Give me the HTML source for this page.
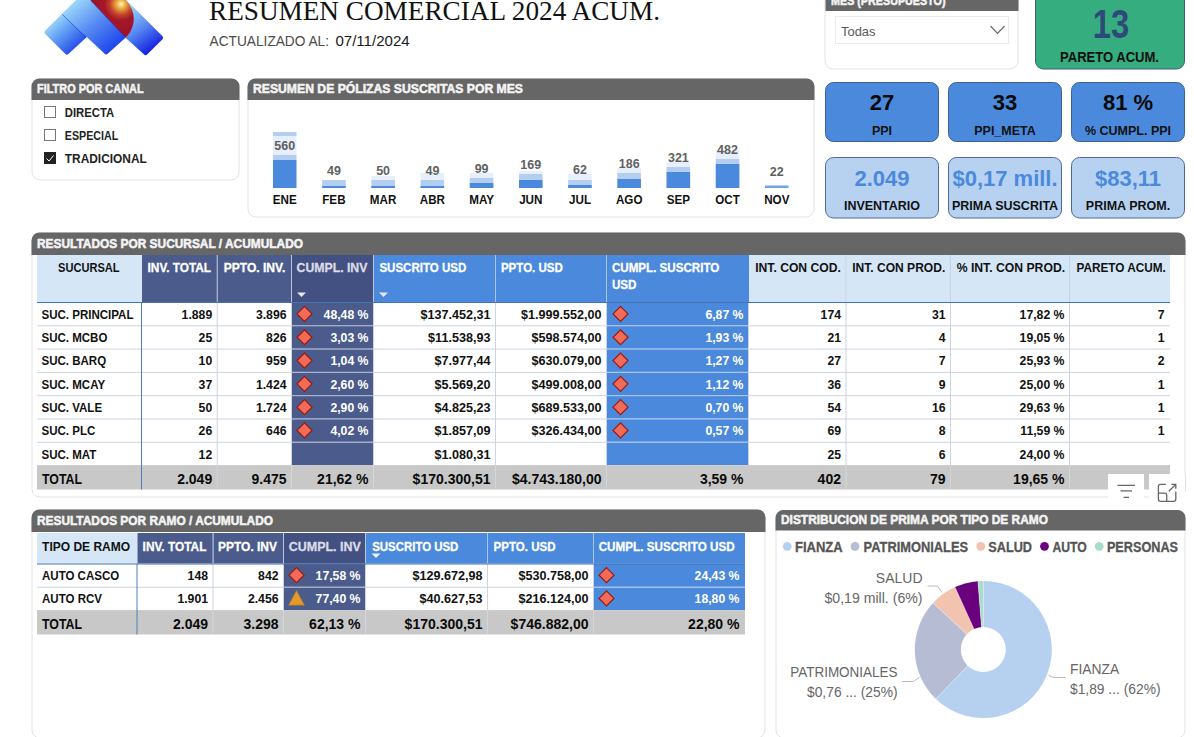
<!DOCTYPE html><html><head><meta charset="utf-8"><title>Resumen Comercial</title><style>html,body{margin:0;padding:0;background:#fff;width:1194px;height:737px;overflow:hidden}svg{display:block;font-family:"Liberation Sans",sans-serif}</style></head><body>
<svg width="1194" height="737" viewBox="0 0 1194 737">
<defs><linearGradient id="gl" gradientUnits="userSpaceOnUse" x1="50" y1="20" x2="78" y2="52"><stop offset="0" stop-color="#A6DEFB"/><stop offset="0.45" stop-color="#5C9AF3"/><stop offset="1" stop-color="#1C3CE8"/></linearGradient><linearGradient id="gm" gradientUnits="userSpaceOnUse" x1="70" y1="0" x2="112" y2="50"><stop offset="0" stop-color="#A6E2FB"/><stop offset="0.5" stop-color="#5A8EF2"/><stop offset="1" stop-color="#1E46EC"/></linearGradient><linearGradient id="gk" gradientUnits="userSpaceOnUse" x1="128" y1="8" x2="158" y2="50"><stop offset="0" stop-color="#9CD6FA"/><stop offset="0.45" stop-color="#5A8CF2"/><stop offset="1" stop-color="#0A14DE"/></linearGradient><radialGradient id="gr" gradientUnits="userSpaceOnUse" cx="121" cy="4" r="30"><stop offset="0" stop-color="#FFF4C8"/><stop offset="0.14" stop-color="#F0B444"/><stop offset="0.36" stop-color="#C3442A"/><stop offset="0.55" stop-color="#A3172A"/><stop offset="1" stop-color="#9A1228"/></radialGradient></defs>
<path d="M98,10 L108,0 L126.3,0 L162.5,36.2 Q164,37.7 162.5,39.2 L147.1,54.5 Q145.6,56 144.1,54.5 L125.5,37.7 Z" fill="url(#gk)"/>
<path d="M45.5,30.3 L66,10 L90,34 L68.4,54 Q66.9,55.5 65.4,54 L45.5,34.3 Q43.5,32.3 45.5,30.3 Z" fill="url(#gl)"/>
<path d="M62,14 L76,0 L92,0 L125.5,37.7 L107.7,53.8 Q106.2,55.3 104.7,53.8 Z" fill="url(#gm)"/>
<path d="M62.5,14.5 L86.1,37.7" stroke="#1530D8" stroke-opacity="0.55" stroke-width="1"/>
<path d="M90.3,0 L125.5,37.7 A25.8,25.8 0 0 0 108,-7 Z" fill="url(#gr)"/>
<path d="M91,1 L125,37" stroke="#1A2EE0" stroke-opacity="0.5" stroke-width="1"/>
<text x="209.0" y="19.5" font-family="Liberation Serif" font-size="27" font-weight="normal" fill="#111" text-anchor="start" textLength="451.0" lengthAdjust="spacingAndGlyphs">RESUMEN COMERCIAL 2024 ACUM.</text>
<text x="209.6" y="46.3" font-family="Liberation Sans" font-size="14" font-weight="normal" fill="#4A4A4A" text-anchor="start" textLength="119.4" lengthAdjust="spacingAndGlyphs">ACTUALIZADO AL:</text>
<text x="335.4" y="46.3" font-family="Liberation Sans" font-size="14" font-weight="normal" fill="#1A1A1A" text-anchor="start" textLength="74.3" lengthAdjust="spacingAndGlyphs">07/11/2024</text>
<path d="M40,79 H231 A8,8 0 0 1 239,87 V172 A8,8 0 0 1 231,180 H40 A8,8 0 0 1 32,172 V87 A8,8 0 0 1 40,79 Z" fill="#fff" stroke="#E3E3E3" stroke-width="1"/>
<path d="M31.5,100 V87 A8,8 0 0 1 40,78.5 H231 A8,8 0 0 1 239.5,87 V100 Z" fill="#666666"/>
<text x="37.0" y="93.4" font-family="Liberation Sans" font-size="13" font-weight="bold" fill="#F4F4F4" text-anchor="start" textLength="106.6" lengthAdjust="spacingAndGlyphs" stroke="#F4F4F4" stroke-width="0.55">FILTRO POR CANAL</text>
<rect x="44.50" y="106.50" width="11.00" height="11.00" rx="0" fill="#fff" stroke="#777" stroke-width="1"/>
<text x="64.8" y="116.6" font-family="Liberation Sans" font-size="13.5" font-weight="bold" fill="#222" text-anchor="start" textLength="49.4" lengthAdjust="spacingAndGlyphs">DIRECTA</text>
<rect x="44.50" y="129.50" width="11.00" height="11.00" rx="0" fill="#fff" stroke="#777" stroke-width="1"/>
<text x="64.8" y="139.6" font-family="Liberation Sans" font-size="13.5" font-weight="bold" fill="#222" text-anchor="start" textLength="53.4" lengthAdjust="spacingAndGlyphs">ESPECIAL</text>
<rect x="44.00" y="152.00" width="12.00" height="12.00" rx="0" fill="#222"/>
<path d="M46.5,158.5 L49,161 L53.5,155.5" fill="none" stroke="#fff" stroke-width="1"/>
<text x="64.8" y="162.6" font-family="Liberation Sans" font-size="13.5" font-weight="bold" fill="#222" text-anchor="start" textLength="82.0" lengthAdjust="spacingAndGlyphs">TRADICIONAL</text>
<path d="M256,79 H806 A8,8 0 0 1 814,87 V209 A8,8 0 0 1 806,217 H256 A8,8 0 0 1 248,209 V87 A8,8 0 0 1 256,79 Z" fill="#fff" stroke="#E3E3E3" stroke-width="1"/>
<path d="M247.5,100 V87 A8,8 0 0 1 256,78.5 H806 A8,8 0 0 1 814.5,87 V100 Z" fill="#666666"/>
<text x="253.0" y="93.4" font-family="Liberation Sans" font-size="13" font-weight="bold" fill="#F4F4F4" text-anchor="start" textLength="270.0" lengthAdjust="spacingAndGlyphs" stroke="#F4F4F4" stroke-width="0.55">RESUMEN DE PÓLIZAS SUSCRITAS POR MES</text>
<rect x="273.00" y="132.00" width="23.50" height="4.00" rx="0" fill="#B3CEF0"/>
<rect x="273.00" y="136.00" width="23.50" height="19.00" rx="0" fill="#E6EFFB"/>
<rect x="273.00" y="155.00" width="23.50" height="5.00" rx="0" fill="#B3CEF0"/>
<rect x="273.00" y="160.00" width="23.50" height="28.00" rx="0" fill="#4A89DC"/>
<text x="284.8" y="149.8" font-family="Liberation Sans" font-size="12.5" font-weight="bold" fill="#5F5F5F" text-anchor="middle">560</text>
<text x="284.8" y="203.8" font-family="Liberation Sans" font-size="12.5" font-weight="bold" fill="#111" text-anchor="middle" textLength="23.9" lengthAdjust="spacingAndGlyphs">ENE</text>
<rect x="322.20" y="180.00" width="23.50" height="8.00" rx="0" fill="#E6EFFB"/>
<rect x="322.20" y="180.00" width="23.50" height="8.00" rx="0" fill="#B3CEF0"/>
<rect x="322.20" y="186.00" width="23.50" height="2.00" rx="0" fill="#4A89DC"/>
<text x="333.9" y="174.8" font-family="Liberation Sans" font-size="12.5" font-weight="bold" fill="#5F5F5F" text-anchor="middle">49</text>
<text x="333.9" y="203.8" font-family="Liberation Sans" font-size="12.5" font-weight="bold" fill="#111" text-anchor="middle" textLength="23.3" lengthAdjust="spacingAndGlyphs">FEB</text>
<rect x="371.40" y="176.00" width="23.50" height="12.00" rx="0" fill="#E6EFFB"/>
<rect x="371.40" y="180.00" width="23.50" height="8.00" rx="0" fill="#B3CEF0"/>
<rect x="371.40" y="186.00" width="23.50" height="2.00" rx="0" fill="#4A89DC"/>
<text x="383.1" y="174.8" font-family="Liberation Sans" font-size="12.5" font-weight="bold" fill="#5F5F5F" text-anchor="middle">50</text>
<text x="383.1" y="203.8" font-family="Liberation Sans" font-size="12.5" font-weight="bold" fill="#111" text-anchor="middle" textLength="26.5" lengthAdjust="spacingAndGlyphs">MAR</text>
<rect x="420.60" y="173.00" width="23.50" height="15.00" rx="0" fill="#E6EFFB"/>
<rect x="420.60" y="180.00" width="23.50" height="8.00" rx="0" fill="#B3CEF0"/>
<rect x="420.60" y="186.00" width="23.50" height="2.00" rx="0" fill="#4A89DC"/>
<text x="432.4" y="174.8" font-family="Liberation Sans" font-size="12.5" font-weight="bold" fill="#5F5F5F" text-anchor="middle">49</text>
<text x="432.4" y="203.8" font-family="Liberation Sans" font-size="12.5" font-weight="bold" fill="#111" text-anchor="middle" textLength="25.2" lengthAdjust="spacingAndGlyphs">ABR</text>
<rect x="469.80" y="173.00" width="23.50" height="15.00" rx="0" fill="#E6EFFB"/>
<rect x="469.80" y="178.00" width="23.50" height="10.00" rx="0" fill="#B3CEF0"/>
<rect x="469.80" y="183.00" width="23.50" height="5.00" rx="0" fill="#4A89DC"/>
<text x="481.6" y="172.7" font-family="Liberation Sans" font-size="12.5" font-weight="bold" fill="#5F5F5F" text-anchor="middle">99</text>
<text x="481.6" y="203.8" font-family="Liberation Sans" font-size="12.5" font-weight="bold" fill="#111" text-anchor="middle" textLength="24.8" lengthAdjust="spacingAndGlyphs">MAY</text>
<rect x="519.00" y="171.00" width="23.50" height="17.00" rx="0" fill="#E6EFFB"/>
<rect x="519.00" y="174.00" width="23.50" height="14.00" rx="0" fill="#B3CEF0"/>
<rect x="519.00" y="180.00" width="23.50" height="8.00" rx="0" fill="#4A89DC"/>
<text x="530.8" y="169.0" font-family="Liberation Sans" font-size="12.5" font-weight="bold" fill="#5F5F5F" text-anchor="middle">169</text>
<text x="530.8" y="203.8" font-family="Liberation Sans" font-size="12.5" font-weight="bold" fill="#111" text-anchor="middle" textLength="23.3" lengthAdjust="spacingAndGlyphs">JUN</text>
<rect x="568.20" y="174.00" width="23.50" height="14.00" rx="0" fill="#E6EFFB"/>
<rect x="568.20" y="180.00" width="23.50" height="8.00" rx="0" fill="#B3CEF0"/>
<rect x="568.20" y="185.00" width="23.50" height="3.00" rx="0" fill="#4A89DC"/>
<text x="580.0" y="173.6" font-family="Liberation Sans" font-size="12.5" font-weight="bold" fill="#5F5F5F" text-anchor="middle">62</text>
<text x="580.0" y="203.8" font-family="Liberation Sans" font-size="12.5" font-weight="bold" fill="#111" text-anchor="middle" textLength="22.0" lengthAdjust="spacingAndGlyphs">JUL</text>
<rect x="617.40" y="168.00" width="23.50" height="20.00" rx="0" fill="#E6EFFB"/>
<rect x="617.40" y="173.00" width="23.50" height="15.00" rx="0" fill="#B3CEF0"/>
<rect x="617.40" y="179.00" width="23.50" height="9.00" rx="0" fill="#4A89DC"/>
<text x="629.2" y="168.0" font-family="Liberation Sans" font-size="12.5" font-weight="bold" fill="#5F5F5F" text-anchor="middle">186</text>
<text x="629.2" y="203.8" font-family="Liberation Sans" font-size="12.5" font-weight="bold" fill="#111" text-anchor="middle" textLength="26.5" lengthAdjust="spacingAndGlyphs">AGO</text>
<rect x="666.60" y="162.00" width="23.50" height="26.00" rx="0" fill="#E6EFFB"/>
<rect x="666.60" y="167.00" width="23.50" height="21.00" rx="0" fill="#B3CEF0"/>
<rect x="666.60" y="172.00" width="23.50" height="16.00" rx="0" fill="#4A89DC"/>
<text x="678.4" y="162.3" font-family="Liberation Sans" font-size="12.5" font-weight="bold" fill="#5F5F5F" text-anchor="middle">321</text>
<text x="678.4" y="203.8" font-family="Liberation Sans" font-size="12.5" font-weight="bold" fill="#111" text-anchor="middle" textLength="23.3" lengthAdjust="spacingAndGlyphs">SEP</text>
<rect x="715.80" y="150.00" width="23.50" height="38.00" rx="0" fill="#E6EFFB"/>
<rect x="715.80" y="159.00" width="23.50" height="29.00" rx="0" fill="#B3CEF0"/>
<rect x="715.80" y="164.00" width="23.50" height="24.00" rx="0" fill="#4A89DC"/>
<text x="727.5" y="153.9" font-family="Liberation Sans" font-size="12.5" font-weight="bold" fill="#5F5F5F" text-anchor="middle">482</text>
<text x="727.5" y="203.8" font-family="Liberation Sans" font-size="12.5" font-weight="bold" fill="#111" text-anchor="middle" textLength="24.5" lengthAdjust="spacingAndGlyphs">OCT</text>
<rect x="765.00" y="185.50" width="23.50" height="2.50" rx="0" fill="#73A3E6"/>
<text x="776.8" y="176.3" font-family="Liberation Sans" font-size="12.5" font-weight="bold" fill="#5F5F5F" text-anchor="middle">22</text>
<text x="776.8" y="203.8" font-family="Liberation Sans" font-size="12.5" font-weight="bold" fill="#111" text-anchor="middle" textLength="25.2" lengthAdjust="spacingAndGlyphs">NOV</text>
<path d="M825,-10 H1018 V61 A8,8 0 0 1 1010,69 H833 A8,8 0 0 1 825,61 Z" fill="#fff" stroke="#E3E3E3" stroke-width="1"/>
<rect x="825.50" y="-10.00" width="193.00" height="21.00" rx="0" fill="#666666"/>
<text x="831.0" y="4.6" font-family="Liberation Sans" font-size="13" font-weight="bold" fill="#F4F4F4" text-anchor="start" textLength="114.5" lengthAdjust="spacingAndGlyphs" stroke="#F4F4F4" stroke-width="0.55">MES (PRESUPUESTO)</text>
<rect x="835.50" y="16.50" width="173.00" height="27.00" rx="0" fill="#fff" stroke="#EAEAEA" stroke-width="1"/>
<text x="841.0" y="36.0" font-family="Liberation Sans" font-size="13" font-weight="normal" fill="#5A5A5A" text-anchor="start" textLength="34.5" lengthAdjust="spacingAndGlyphs">Todas</text>
<path d="M990.5,26 L997.5,33.5 L1004.5,26" fill="none" stroke="#666" stroke-width="1.1"/>
<rect x="1035.50" y="-10.00" width="149.00" height="79.00" rx="8" fill="#35AD7F" stroke="#3D5C7E" stroke-width="1"/>
<text x="1111.0" y="37.5" font-family="Liberation Sans" font-size="41" font-weight="bold" fill="#2D4A78" text-anchor="middle" textLength="36.5" lengthAdjust="spacingAndGlyphs">13</text>
<text x="1109.5" y="62.0" font-family="Liberation Sans" font-size="14.5" font-weight="bold" fill="#111" text-anchor="middle" textLength="99.0" lengthAdjust="spacingAndGlyphs">PARETO ACUM.</text>
<rect x="825.50" y="82.50" width="113.00" height="59.00" rx="8" fill="#4A89DC" stroke="#3D5F95" stroke-width="1"/>
<text x="882.0" y="110.0" font-family="Liberation Sans" font-size="22" font-weight="bold" fill="#0A0A0A" text-anchor="middle">27</text>
<text x="882.0" y="135.3" font-family="Liberation Sans" font-size="12.5" font-weight="bold" fill="#111" text-anchor="middle">PPI</text>
<rect x="948.50" y="82.50" width="113.00" height="59.00" rx="8" fill="#4A89DC" stroke="#3D5F95" stroke-width="1"/>
<text x="1005.0" y="110.0" font-family="Liberation Sans" font-size="22" font-weight="bold" fill="#0A0A0A" text-anchor="middle">33</text>
<text x="1005.0" y="135.3" font-family="Liberation Sans" font-size="12.5" font-weight="bold" fill="#111" text-anchor="middle">PPI_META</text>
<rect x="1071.50" y="82.50" width="113.00" height="59.00" rx="8" fill="#4A89DC" stroke="#3D5F95" stroke-width="1"/>
<text x="1128.0" y="110.0" font-family="Liberation Sans" font-size="22" font-weight="bold" fill="#0A0A0A" text-anchor="middle">81 %</text>
<text x="1128.0" y="135.3" font-family="Liberation Sans" font-size="12.5" font-weight="bold" fill="#111" text-anchor="middle">% CUMPL. PPI</text>
<rect x="825.50" y="157.50" width="113.00" height="60.50" rx="8" fill="#B7D1F1" stroke="#4E6A98" stroke-width="1"/>
<text x="882.0" y="185.5" font-family="Liberation Sans" font-size="22" font-weight="bold" fill="#4A89DC" text-anchor="middle">2.049</text>
<text x="882.0" y="210.0" font-family="Liberation Sans" font-size="12.5" font-weight="bold" fill="#111" text-anchor="middle">INVENTARIO</text>
<rect x="948.50" y="157.50" width="113.00" height="60.50" rx="8" fill="#B7D1F1" stroke="#4E6A98" stroke-width="1"/>
<text x="1005.0" y="185.5" font-family="Liberation Sans" font-size="22" font-weight="bold" fill="#4A89DC" text-anchor="middle">$0,17 mill.</text>
<text x="1005.0" y="210.0" font-family="Liberation Sans" font-size="12.5" font-weight="bold" fill="#111" text-anchor="middle">PRIMA SUSCRITA</text>
<rect x="1071.50" y="157.50" width="113.00" height="60.50" rx="8" fill="#B7D1F1" stroke="#4E6A98" stroke-width="1"/>
<text x="1128.0" y="185.5" font-family="Liberation Sans" font-size="22" font-weight="bold" fill="#4A89DC" text-anchor="middle">$83,11</text>
<text x="1128.0" y="210.0" font-family="Liberation Sans" font-size="12.5" font-weight="bold" fill="#111" text-anchor="middle">PRIMA PROM.</text>
<path d="M40,233 H1177 A8,8 0 0 1 1185,241 V489 A8,8 0 0 1 1177,497 H40 A8,8 0 0 1 32,489 V241 A8,8 0 0 1 40,233 Z" fill="#fff" stroke="#E3E3E3" stroke-width="1"/>
<path d="M31.5,255 V241 A8,8 0 0 1 40,232.5 H1177 A8,8 0 0 1 1185.5,241 V255 Z" fill="#666666"/>
<text x="37.0" y="248.4" font-family="Liberation Sans" font-size="13" font-weight="bold" fill="#F4F4F4" text-anchor="start" textLength="266.0" lengthAdjust="spacingAndGlyphs" stroke="#F4F4F4" stroke-width="0.55">RESULTADOS POR SUCURSAL / ACUMULADO</text>
<rect x="37.00" y="255.00" width="105.00" height="47.00" rx="0" fill="#D5E6F6"/>
<rect x="142.00" y="255.00" width="75.70" height="47.00" rx="0" fill="#4B5B8B"/>
<rect x="217.70" y="255.00" width="74.30" height="47.00" rx="0" fill="#4B5B8B"/>
<rect x="292.00" y="255.00" width="82.00" height="47.00" rx="0" fill="#425082"/>
<rect x="374.00" y="255.00" width="122.00" height="47.00" rx="0" fill="#4A89DC"/>
<rect x="496.00" y="255.00" width="111.00" height="47.00" rx="0" fill="#4A89DC"/>
<rect x="607.00" y="255.00" width="142.00" height="47.00" rx="0" fill="#4A89DC"/>
<rect x="749.00" y="255.00" width="97.50" height="47.00" rx="0" fill="#D5E6F6"/>
<rect x="846.50" y="255.00" width="104.50" height="47.00" rx="0" fill="#D5E6F6"/>
<rect x="951.00" y="255.00" width="119.00" height="47.00" rx="0" fill="#D5E6F6"/>
<rect x="1070.00" y="255.00" width="100.00" height="47.00" rx="0" fill="#D5E6F6"/>
<line x1="217.20" y1="255.00" x2="217.20" y2="302.00" stroke="#BCC5DD" stroke-width="1"/>
<line x1="291.50" y1="255.00" x2="291.50" y2="302.00" stroke="#BCC5DD" stroke-width="1"/>
<line x1="373.50" y1="255.00" x2="373.50" y2="302.00" stroke="#BCC5DD" stroke-width="1"/>
<line x1="495.50" y1="255.00" x2="495.50" y2="302.00" stroke="#A9C5EC" stroke-width="1"/>
<line x1="606.50" y1="255.00" x2="606.50" y2="302.00" stroke="#A9C5EC" stroke-width="1"/>
<line x1="846.00" y1="255.00" x2="846.00" y2="302.00" stroke="#C5D4E8" stroke-width="1"/>
<line x1="950.50" y1="255.00" x2="950.50" y2="302.00" stroke="#C5D4E8" stroke-width="1"/>
<line x1="1069.50" y1="255.00" x2="1069.50" y2="302.00" stroke="#C5D4E8" stroke-width="1"/>
<text x="58.0" y="272.0" font-family="Liberation Sans" font-size="12.5" font-weight="bold" fill="#111" text-anchor="start" textLength="61.6" lengthAdjust="spacingAndGlyphs">SUCURSAL</text>
<text x="147.6" y="272.0" font-family="Liberation Sans" font-size="12.5" font-weight="bold" fill="#FFF" text-anchor="start" textLength="63.4" lengthAdjust="spacingAndGlyphs" stroke="#FFF" stroke-width="0.3">INV. TOTAL</text>
<text x="223.7" y="272.0" font-family="Liberation Sans" font-size="12.5" font-weight="bold" fill="#FFF" text-anchor="start" textLength="61.6" lengthAdjust="spacingAndGlyphs" stroke="#FFF" stroke-width="0.3">PPTO. INV.</text>
<text x="296.6" y="272.0" font-family="Liberation Sans" font-size="12.5" font-weight="bold" fill="#DADCE6" text-anchor="start" textLength="70.8" lengthAdjust="spacingAndGlyphs" stroke="#DADCE6" stroke-width="0.3">CUMPL. INV</text>
<text x="379.4" y="272.0" font-family="Liberation Sans" font-size="12.5" font-weight="bold" fill="#FFF" text-anchor="start" textLength="86.9" lengthAdjust="spacingAndGlyphs" stroke="#FFF" stroke-width="0.3">SUSCRITO USD</text>
<text x="500.9" y="272.0" font-family="Liberation Sans" font-size="12.5" font-weight="bold" fill="#FFF" text-anchor="start" textLength="62.0" lengthAdjust="spacingAndGlyphs" stroke="#FFF" stroke-width="0.3">PPTO. USD</text>
<text x="611.9" y="272.0" font-family="Liberation Sans" font-size="12.5" font-weight="bold" fill="#FFF" text-anchor="start" textLength="107.5" lengthAdjust="spacingAndGlyphs" stroke="#FFF" stroke-width="0.3">CUMPL. SUSCRITO</text>
<text x="611.9" y="289.0" font-family="Liberation Sans" font-size="12.5" font-weight="bold" fill="#FFF" text-anchor="start" textLength="24.6" lengthAdjust="spacingAndGlyphs" stroke="#FFF" stroke-width="0.3">USD</text>
<text x="755.2" y="272.0" font-family="Liberation Sans" font-size="12.5" font-weight="bold" fill="#111" text-anchor="start" textLength="85.6" lengthAdjust="spacingAndGlyphs">INT. CON COD.</text>
<text x="852.2" y="272.0" font-family="Liberation Sans" font-size="12.5" font-weight="bold" fill="#111" text-anchor="start" textLength="93.1" lengthAdjust="spacingAndGlyphs">INT. CON PROD.</text>
<text x="956.7" y="272.0" font-family="Liberation Sans" font-size="12.5" font-weight="bold" fill="#111" text-anchor="start" textLength="108.4" lengthAdjust="spacingAndGlyphs">% INT. CON PROD.</text>
<text x="1076.5" y="272.0" font-family="Liberation Sans" font-size="12.5" font-weight="bold" fill="#111" text-anchor="start" textLength="89.4" lengthAdjust="spacingAndGlyphs">PARETO ACUM.</text>
<path d="M297,292.5 L306,292.5 L301.5,297 Z" fill="#E6E6EE"/>
<path d="M379,292.5 L388,292.5 L383.5,297 Z" fill="#E6E6EE"/>
<rect x="292.00" y="302.00" width="82.00" height="23.30" rx="0" fill="#4B5B8B"/>
<rect x="607.00" y="302.00" width="142.00" height="23.30" rx="0" fill="#4A89DC"/>
<text x="41.5" y="318.8" font-family="Liberation Sans" font-size="12" font-weight="bold" fill="#111" text-anchor="start" textLength="92.0" lengthAdjust="spacingAndGlyphs">SUC. PRINCIPAL</text>
<text x="212.2" y="318.8" font-family="Liberation Sans" font-size="12" font-weight="bold" fill="#111" text-anchor="end" textLength="30.6" lengthAdjust="spacingAndGlyphs">1.889</text>
<text x="286.5" y="318.8" font-family="Liberation Sans" font-size="12" font-weight="bold" fill="#111" text-anchor="end" textLength="30.6" lengthAdjust="spacingAndGlyphs">3.896</text>
<text x="368.5" y="318.8" font-family="Liberation Sans" font-size="12" font-weight="bold" fill="#FFFFFF" text-anchor="end" textLength="44.9" lengthAdjust="spacingAndGlyphs">48,48 %</text>
<text x="490.5" y="318.8" font-family="Liberation Sans" font-size="12" font-weight="bold" fill="#111" text-anchor="end" textLength="70.1" lengthAdjust="spacingAndGlyphs">$137.452,31</text>
<text x="601.5" y="318.8" font-family="Liberation Sans" font-size="12" font-weight="bold" fill="#111" text-anchor="end" textLength="80.6" lengthAdjust="spacingAndGlyphs">$1.999.552,00</text>
<text x="743.5" y="318.8" font-family="Liberation Sans" font-size="12" font-weight="bold" fill="#FFFFFF" text-anchor="end" textLength="38.1" lengthAdjust="spacingAndGlyphs">6,87 %</text>
<text x="841.0" y="318.8" font-family="Liberation Sans" font-size="12" font-weight="bold" fill="#111" text-anchor="end" textLength="20.4" lengthAdjust="spacingAndGlyphs">174</text>
<text x="945.5" y="318.8" font-family="Liberation Sans" font-size="12" font-weight="bold" fill="#111" text-anchor="end" textLength="13.6" lengthAdjust="spacingAndGlyphs">31</text>
<text x="1064.5" y="318.8" font-family="Liberation Sans" font-size="12" font-weight="bold" fill="#111" text-anchor="end" textLength="44.9" lengthAdjust="spacingAndGlyphs">17,82 %</text>
<text x="1164.5" y="318.8" font-family="Liberation Sans" font-size="12" font-weight="bold" fill="#111" text-anchor="end" textLength="6.8" lengthAdjust="spacingAndGlyphs">7</text>
<path d="M304.5,306.45 L312.0,313.95 L304.5,321.45 L297.0,313.95 Z" fill="#F26A58" stroke="#9A1A10" stroke-width="1.2"/>
<path d="M620.5,306.45 L628.0,313.95 L620.5,321.45 L613.0,313.95 Z" fill="#F26A58" stroke="#9A1A10" stroke-width="1.2"/>
<rect x="292.00" y="325.30" width="82.00" height="23.30" rx="0" fill="#4B5B8B"/>
<rect x="607.00" y="325.30" width="142.00" height="23.30" rx="0" fill="#4A89DC"/>
<line x1="37.00" y1="325.80" x2="292.00" y2="325.80" stroke="#CDD3E3" stroke-width="1"/>
<line x1="292.00" y1="325.80" x2="374.00" y2="325.80" stroke="#B9C1D8" stroke-width="1"/>
<line x1="374.00" y1="325.80" x2="607.00" y2="325.80" stroke="#CDD3E3" stroke-width="1"/>
<line x1="607.00" y1="325.80" x2="749.00" y2="325.80" stroke="#B9CDEE" stroke-width="1"/>
<line x1="749.00" y1="325.80" x2="1170.00" y2="325.80" stroke="#CDD3E3" stroke-width="1"/>
<text x="41.5" y="342.1" font-family="Liberation Sans" font-size="12" font-weight="bold" fill="#111" text-anchor="start" textLength="65.9" lengthAdjust="spacingAndGlyphs">SUC. MCBO</text>
<text x="212.2" y="342.1" font-family="Liberation Sans" font-size="12" font-weight="bold" fill="#111" text-anchor="end" textLength="13.6" lengthAdjust="spacingAndGlyphs">25</text>
<text x="286.5" y="342.1" font-family="Liberation Sans" font-size="12" font-weight="bold" fill="#111" text-anchor="end" textLength="20.4" lengthAdjust="spacingAndGlyphs">826</text>
<text x="368.5" y="342.1" font-family="Liberation Sans" font-size="12" font-weight="bold" fill="#FFFFFF" text-anchor="end" textLength="38.1" lengthAdjust="spacingAndGlyphs">3,03 %</text>
<text x="490.5" y="342.1" font-family="Liberation Sans" font-size="12" font-weight="bold" fill="#111" text-anchor="end" textLength="62.4" lengthAdjust="spacingAndGlyphs">$11.538,93</text>
<text x="601.5" y="342.1" font-family="Liberation Sans" font-size="12" font-weight="bold" fill="#111" text-anchor="end" textLength="70.1" lengthAdjust="spacingAndGlyphs">$598.574,00</text>
<text x="743.5" y="342.1" font-family="Liberation Sans" font-size="12" font-weight="bold" fill="#FFFFFF" text-anchor="end" textLength="38.1" lengthAdjust="spacingAndGlyphs">1,93 %</text>
<text x="841.0" y="342.1" font-family="Liberation Sans" font-size="12" font-weight="bold" fill="#111" text-anchor="end" textLength="13.6" lengthAdjust="spacingAndGlyphs">21</text>
<text x="945.5" y="342.1" font-family="Liberation Sans" font-size="12" font-weight="bold" fill="#111" text-anchor="end" textLength="6.8" lengthAdjust="spacingAndGlyphs">4</text>
<text x="1064.5" y="342.1" font-family="Liberation Sans" font-size="12" font-weight="bold" fill="#111" text-anchor="end" textLength="44.9" lengthAdjust="spacingAndGlyphs">19,05 %</text>
<text x="1164.5" y="342.1" font-family="Liberation Sans" font-size="12" font-weight="bold" fill="#111" text-anchor="end" textLength="6.8" lengthAdjust="spacingAndGlyphs">1</text>
<path d="M304.5,329.75 L312.0,337.25 L304.5,344.75 L297.0,337.25 Z" fill="#F26A58" stroke="#9A1A10" stroke-width="1.2"/>
<path d="M620.5,329.75 L628.0,337.25 L620.5,344.75 L613.0,337.25 Z" fill="#F26A58" stroke="#9A1A10" stroke-width="1.2"/>
<rect x="292.00" y="348.60" width="82.00" height="23.30" rx="0" fill="#4B5B8B"/>
<rect x="607.00" y="348.60" width="142.00" height="23.30" rx="0" fill="#4A89DC"/>
<line x1="37.00" y1="349.10" x2="292.00" y2="349.10" stroke="#CDD3E3" stroke-width="1"/>
<line x1="292.00" y1="349.10" x2="374.00" y2="349.10" stroke="#B9C1D8" stroke-width="1"/>
<line x1="374.00" y1="349.10" x2="607.00" y2="349.10" stroke="#CDD3E3" stroke-width="1"/>
<line x1="607.00" y1="349.10" x2="749.00" y2="349.10" stroke="#B9CDEE" stroke-width="1"/>
<line x1="749.00" y1="349.10" x2="1170.00" y2="349.10" stroke="#CDD3E3" stroke-width="1"/>
<text x="41.5" y="365.4" font-family="Liberation Sans" font-size="12" font-weight="bold" fill="#111" text-anchor="start" textLength="64.6" lengthAdjust="spacingAndGlyphs">SUC. BARQ</text>
<text x="212.2" y="365.4" font-family="Liberation Sans" font-size="12" font-weight="bold" fill="#111" text-anchor="end" textLength="13.6" lengthAdjust="spacingAndGlyphs">10</text>
<text x="286.5" y="365.4" font-family="Liberation Sans" font-size="12" font-weight="bold" fill="#111" text-anchor="end" textLength="20.4" lengthAdjust="spacingAndGlyphs">959</text>
<text x="368.5" y="365.4" font-family="Liberation Sans" font-size="12" font-weight="bold" fill="#FFFFFF" text-anchor="end" textLength="38.1" lengthAdjust="spacingAndGlyphs">1,04 %</text>
<text x="490.5" y="365.4" font-family="Liberation Sans" font-size="12" font-weight="bold" fill="#111" text-anchor="end" textLength="56.1" lengthAdjust="spacingAndGlyphs">$7.977,44</text>
<text x="601.5" y="365.4" font-family="Liberation Sans" font-size="12" font-weight="bold" fill="#111" text-anchor="end" textLength="70.1" lengthAdjust="spacingAndGlyphs">$630.079,00</text>
<text x="743.5" y="365.4" font-family="Liberation Sans" font-size="12" font-weight="bold" fill="#FFFFFF" text-anchor="end" textLength="38.1" lengthAdjust="spacingAndGlyphs">1,27 %</text>
<text x="841.0" y="365.4" font-family="Liberation Sans" font-size="12" font-weight="bold" fill="#111" text-anchor="end" textLength="13.6" lengthAdjust="spacingAndGlyphs">27</text>
<text x="945.5" y="365.4" font-family="Liberation Sans" font-size="12" font-weight="bold" fill="#111" text-anchor="end" textLength="6.8" lengthAdjust="spacingAndGlyphs">7</text>
<text x="1064.5" y="365.4" font-family="Liberation Sans" font-size="12" font-weight="bold" fill="#111" text-anchor="end" textLength="44.9" lengthAdjust="spacingAndGlyphs">25,93 %</text>
<text x="1164.5" y="365.4" font-family="Liberation Sans" font-size="12" font-weight="bold" fill="#111" text-anchor="end" textLength="6.8" lengthAdjust="spacingAndGlyphs">2</text>
<path d="M304.5,353.05 L312.0,360.55 L304.5,368.05 L297.0,360.55 Z" fill="#F26A58" stroke="#9A1A10" stroke-width="1.2"/>
<path d="M620.5,353.05 L628.0,360.55 L620.5,368.05 L613.0,360.55 Z" fill="#F26A58" stroke="#9A1A10" stroke-width="1.2"/>
<rect x="292.00" y="371.90" width="82.00" height="23.30" rx="0" fill="#4B5B8B"/>
<rect x="607.00" y="371.90" width="142.00" height="23.30" rx="0" fill="#4A89DC"/>
<line x1="37.00" y1="372.40" x2="292.00" y2="372.40" stroke="#CDD3E3" stroke-width="1"/>
<line x1="292.00" y1="372.40" x2="374.00" y2="372.40" stroke="#B9C1D8" stroke-width="1"/>
<line x1="374.00" y1="372.40" x2="607.00" y2="372.40" stroke="#CDD3E3" stroke-width="1"/>
<line x1="607.00" y1="372.40" x2="749.00" y2="372.40" stroke="#B9CDEE" stroke-width="1"/>
<line x1="749.00" y1="372.40" x2="1170.00" y2="372.40" stroke="#CDD3E3" stroke-width="1"/>
<text x="41.5" y="388.7" font-family="Liberation Sans" font-size="12" font-weight="bold" fill="#111" text-anchor="start" textLength="63.6" lengthAdjust="spacingAndGlyphs">SUC. MCAY</text>
<text x="212.2" y="388.7" font-family="Liberation Sans" font-size="12" font-weight="bold" fill="#111" text-anchor="end" textLength="13.6" lengthAdjust="spacingAndGlyphs">37</text>
<text x="286.5" y="388.7" font-family="Liberation Sans" font-size="12" font-weight="bold" fill="#111" text-anchor="end" textLength="30.6" lengthAdjust="spacingAndGlyphs">1.424</text>
<text x="368.5" y="388.7" font-family="Liberation Sans" font-size="12" font-weight="bold" fill="#FFFFFF" text-anchor="end" textLength="38.1" lengthAdjust="spacingAndGlyphs">2,60 %</text>
<text x="490.5" y="388.7" font-family="Liberation Sans" font-size="12" font-weight="bold" fill="#111" text-anchor="end" textLength="56.1" lengthAdjust="spacingAndGlyphs">$5.569,20</text>
<text x="601.5" y="388.7" font-family="Liberation Sans" font-size="12" font-weight="bold" fill="#111" text-anchor="end" textLength="70.1" lengthAdjust="spacingAndGlyphs">$499.008,00</text>
<text x="743.5" y="388.7" font-family="Liberation Sans" font-size="12" font-weight="bold" fill="#FFFFFF" text-anchor="end" textLength="38.1" lengthAdjust="spacingAndGlyphs">1,12 %</text>
<text x="841.0" y="388.7" font-family="Liberation Sans" font-size="12" font-weight="bold" fill="#111" text-anchor="end" textLength="13.6" lengthAdjust="spacingAndGlyphs">36</text>
<text x="945.5" y="388.7" font-family="Liberation Sans" font-size="12" font-weight="bold" fill="#111" text-anchor="end" textLength="6.8" lengthAdjust="spacingAndGlyphs">9</text>
<text x="1064.5" y="388.7" font-family="Liberation Sans" font-size="12" font-weight="bold" fill="#111" text-anchor="end" textLength="44.9" lengthAdjust="spacingAndGlyphs">25,00 %</text>
<text x="1164.5" y="388.7" font-family="Liberation Sans" font-size="12" font-weight="bold" fill="#111" text-anchor="end" textLength="6.8" lengthAdjust="spacingAndGlyphs">1</text>
<path d="M304.5,376.34999999999997 L312.0,383.84999999999997 L304.5,391.34999999999997 L297.0,383.84999999999997 Z" fill="#F26A58" stroke="#9A1A10" stroke-width="1.2"/>
<path d="M620.5,376.34999999999997 L628.0,383.84999999999997 L620.5,391.34999999999997 L613.0,383.84999999999997 Z" fill="#F26A58" stroke="#9A1A10" stroke-width="1.2"/>
<rect x="292.00" y="395.20" width="82.00" height="23.30" rx="0" fill="#4B5B8B"/>
<rect x="607.00" y="395.20" width="142.00" height="23.30" rx="0" fill="#4A89DC"/>
<line x1="37.00" y1="395.70" x2="292.00" y2="395.70" stroke="#CDD3E3" stroke-width="1"/>
<line x1="292.00" y1="395.70" x2="374.00" y2="395.70" stroke="#B9C1D8" stroke-width="1"/>
<line x1="374.00" y1="395.70" x2="607.00" y2="395.70" stroke="#CDD3E3" stroke-width="1"/>
<line x1="607.00" y1="395.70" x2="749.00" y2="395.70" stroke="#B9CDEE" stroke-width="1"/>
<line x1="749.00" y1="395.70" x2="1170.00" y2="395.70" stroke="#CDD3E3" stroke-width="1"/>
<text x="41.5" y="412.0" font-family="Liberation Sans" font-size="12" font-weight="bold" fill="#111" text-anchor="start" textLength="60.6" lengthAdjust="spacingAndGlyphs">SUC. VALE</text>
<text x="212.2" y="412.0" font-family="Liberation Sans" font-size="12" font-weight="bold" fill="#111" text-anchor="end" textLength="13.6" lengthAdjust="spacingAndGlyphs">50</text>
<text x="286.5" y="412.0" font-family="Liberation Sans" font-size="12" font-weight="bold" fill="#111" text-anchor="end" textLength="30.6" lengthAdjust="spacingAndGlyphs">1.724</text>
<text x="368.5" y="412.0" font-family="Liberation Sans" font-size="12" font-weight="bold" fill="#FFFFFF" text-anchor="end" textLength="38.1" lengthAdjust="spacingAndGlyphs">2,90 %</text>
<text x="490.5" y="412.0" font-family="Liberation Sans" font-size="12" font-weight="bold" fill="#111" text-anchor="end" textLength="56.1" lengthAdjust="spacingAndGlyphs">$4.825,23</text>
<text x="601.5" y="412.0" font-family="Liberation Sans" font-size="12" font-weight="bold" fill="#111" text-anchor="end" textLength="70.1" lengthAdjust="spacingAndGlyphs">$689.533,00</text>
<text x="743.5" y="412.0" font-family="Liberation Sans" font-size="12" font-weight="bold" fill="#FFFFFF" text-anchor="end" textLength="38.1" lengthAdjust="spacingAndGlyphs">0,70 %</text>
<text x="841.0" y="412.0" font-family="Liberation Sans" font-size="12" font-weight="bold" fill="#111" text-anchor="end" textLength="13.6" lengthAdjust="spacingAndGlyphs">54</text>
<text x="945.5" y="412.0" font-family="Liberation Sans" font-size="12" font-weight="bold" fill="#111" text-anchor="end" textLength="13.6" lengthAdjust="spacingAndGlyphs">16</text>
<text x="1064.5" y="412.0" font-family="Liberation Sans" font-size="12" font-weight="bold" fill="#111" text-anchor="end" textLength="44.9" lengthAdjust="spacingAndGlyphs">29,63 %</text>
<text x="1164.5" y="412.0" font-family="Liberation Sans" font-size="12" font-weight="bold" fill="#111" text-anchor="end" textLength="6.8" lengthAdjust="spacingAndGlyphs">1</text>
<path d="M304.5,399.65 L312.0,407.15 L304.5,414.65 L297.0,407.15 Z" fill="#F26A58" stroke="#9A1A10" stroke-width="1.2"/>
<path d="M620.5,399.65 L628.0,407.15 L620.5,414.65 L613.0,407.15 Z" fill="#F26A58" stroke="#9A1A10" stroke-width="1.2"/>
<rect x="292.00" y="418.50" width="82.00" height="23.30" rx="0" fill="#4B5B8B"/>
<rect x="607.00" y="418.50" width="142.00" height="23.30" rx="0" fill="#4A89DC"/>
<line x1="37.00" y1="419.00" x2="292.00" y2="419.00" stroke="#CDD3E3" stroke-width="1"/>
<line x1="292.00" y1="419.00" x2="374.00" y2="419.00" stroke="#B9C1D8" stroke-width="1"/>
<line x1="374.00" y1="419.00" x2="607.00" y2="419.00" stroke="#CDD3E3" stroke-width="1"/>
<line x1="607.00" y1="419.00" x2="749.00" y2="419.00" stroke="#B9CDEE" stroke-width="1"/>
<line x1="749.00" y1="419.00" x2="1170.00" y2="419.00" stroke="#CDD3E3" stroke-width="1"/>
<text x="41.5" y="435.3" font-family="Liberation Sans" font-size="12" font-weight="bold" fill="#111" text-anchor="start" textLength="53.8" lengthAdjust="spacingAndGlyphs">SUC. PLC</text>
<text x="212.2" y="435.3" font-family="Liberation Sans" font-size="12" font-weight="bold" fill="#111" text-anchor="end" textLength="13.6" lengthAdjust="spacingAndGlyphs">26</text>
<text x="286.5" y="435.3" font-family="Liberation Sans" font-size="12" font-weight="bold" fill="#111" text-anchor="end" textLength="20.4" lengthAdjust="spacingAndGlyphs">646</text>
<text x="368.5" y="435.3" font-family="Liberation Sans" font-size="12" font-weight="bold" fill="#FFFFFF" text-anchor="end" textLength="38.1" lengthAdjust="spacingAndGlyphs">4,02 %</text>
<text x="490.5" y="435.3" font-family="Liberation Sans" font-size="12" font-weight="bold" fill="#111" text-anchor="end" textLength="56.1" lengthAdjust="spacingAndGlyphs">$1.857,09</text>
<text x="601.5" y="435.3" font-family="Liberation Sans" font-size="12" font-weight="bold" fill="#111" text-anchor="end" textLength="70.1" lengthAdjust="spacingAndGlyphs">$326.434,00</text>
<text x="743.5" y="435.3" font-family="Liberation Sans" font-size="12" font-weight="bold" fill="#FFFFFF" text-anchor="end" textLength="38.1" lengthAdjust="spacingAndGlyphs">0,57 %</text>
<text x="841.0" y="435.3" font-family="Liberation Sans" font-size="12" font-weight="bold" fill="#111" text-anchor="end" textLength="13.6" lengthAdjust="spacingAndGlyphs">69</text>
<text x="945.5" y="435.3" font-family="Liberation Sans" font-size="12" font-weight="bold" fill="#111" text-anchor="end" textLength="6.8" lengthAdjust="spacingAndGlyphs">8</text>
<text x="1064.5" y="435.3" font-family="Liberation Sans" font-size="12" font-weight="bold" fill="#111" text-anchor="end" textLength="44.2" lengthAdjust="spacingAndGlyphs">11,59 %</text>
<text x="1164.5" y="435.3" font-family="Liberation Sans" font-size="12" font-weight="bold" fill="#111" text-anchor="end" textLength="6.8" lengthAdjust="spacingAndGlyphs">1</text>
<path d="M304.5,422.95 L312.0,430.45 L304.5,437.95 L297.0,430.45 Z" fill="#F26A58" stroke="#9A1A10" stroke-width="1.2"/>
<path d="M620.5,422.95 L628.0,430.45 L620.5,437.95 L613.0,430.45 Z" fill="#F26A58" stroke="#9A1A10" stroke-width="1.2"/>
<rect x="292.00" y="441.80" width="82.00" height="23.30" rx="0" fill="#4B5B8B"/>
<rect x="607.00" y="441.80" width="142.00" height="23.30" rx="0" fill="#4A89DC"/>
<line x1="37.00" y1="442.30" x2="292.00" y2="442.30" stroke="#CDD3E3" stroke-width="1"/>
<line x1="292.00" y1="442.30" x2="374.00" y2="442.30" stroke="#B9C1D8" stroke-width="1"/>
<line x1="374.00" y1="442.30" x2="607.00" y2="442.30" stroke="#CDD3E3" stroke-width="1"/>
<line x1="607.00" y1="442.30" x2="749.00" y2="442.30" stroke="#B9CDEE" stroke-width="1"/>
<line x1="749.00" y1="442.30" x2="1170.00" y2="442.30" stroke="#CDD3E3" stroke-width="1"/>
<text x="41.5" y="458.6" font-family="Liberation Sans" font-size="12" font-weight="bold" fill="#111" text-anchor="start" textLength="54.8" lengthAdjust="spacingAndGlyphs">SUC. MAT</text>
<text x="212.2" y="458.6" font-family="Liberation Sans" font-size="12" font-weight="bold" fill="#111" text-anchor="end" textLength="13.6" lengthAdjust="spacingAndGlyphs">12</text>
<text x="490.5" y="458.6" font-family="Liberation Sans" font-size="12" font-weight="bold" fill="#111" text-anchor="end" textLength="56.1" lengthAdjust="spacingAndGlyphs">$1.080,31</text>
<text x="841.0" y="458.6" font-family="Liberation Sans" font-size="12" font-weight="bold" fill="#111" text-anchor="end" textLength="13.6" lengthAdjust="spacingAndGlyphs">25</text>
<text x="945.5" y="458.6" font-family="Liberation Sans" font-size="12" font-weight="bold" fill="#111" text-anchor="end" textLength="6.8" lengthAdjust="spacingAndGlyphs">6</text>
<text x="1064.5" y="458.6" font-family="Liberation Sans" font-size="12" font-weight="bold" fill="#111" text-anchor="end" textLength="44.9" lengthAdjust="spacingAndGlyphs">24,00 %</text>
<line x1="217.20" y1="302.00" x2="217.20" y2="465.10" stroke="#CDD3E3" stroke-width="1"/>
<line x1="291.50" y1="302.00" x2="291.50" y2="465.10" stroke="#CDD3E3" stroke-width="1"/>
<line x1="373.50" y1="302.00" x2="373.50" y2="465.10" stroke="#CDD3E3" stroke-width="1"/>
<line x1="495.50" y1="302.00" x2="495.50" y2="465.10" stroke="#CDD3E3" stroke-width="1"/>
<line x1="606.50" y1="302.00" x2="606.50" y2="465.10" stroke="#CDD3E3" stroke-width="1"/>
<line x1="748.50" y1="302.00" x2="748.50" y2="465.10" stroke="#CDD3E3" stroke-width="1"/>
<line x1="846.00" y1="302.00" x2="846.00" y2="465.10" stroke="#CDD3E3" stroke-width="1"/>
<line x1="950.50" y1="302.00" x2="950.50" y2="465.10" stroke="#CDD3E3" stroke-width="1"/>
<line x1="1069.50" y1="302.00" x2="1069.50" y2="465.10" stroke="#CDD3E3" stroke-width="1"/>
<rect x="37.00" y="465.10" width="1133.00" height="24.40" rx="0" fill="#C8C8C8"/>
<line x1="217.20" y1="465.10" x2="217.20" y2="489.50" stroke="#D6D6D6" stroke-width="1"/>
<line x1="291.50" y1="465.10" x2="291.50" y2="489.50" stroke="#D6D6D6" stroke-width="1"/>
<line x1="373.50" y1="465.10" x2="373.50" y2="489.50" stroke="#D6D6D6" stroke-width="1"/>
<line x1="495.50" y1="465.10" x2="495.50" y2="489.50" stroke="#D6D6D6" stroke-width="1"/>
<line x1="606.50" y1="465.10" x2="606.50" y2="489.50" stroke="#D6D6D6" stroke-width="1"/>
<line x1="846.00" y1="465.10" x2="846.00" y2="489.50" stroke="#D6D6D6" stroke-width="1"/>
<line x1="950.50" y1="465.10" x2="950.50" y2="489.50" stroke="#D6D6D6" stroke-width="1"/>
<line x1="1069.50" y1="465.10" x2="1069.50" y2="489.50" stroke="#D6D6D6" stroke-width="1"/>
<text x="42.0" y="484.0" font-family="Liberation Sans" font-size="14" font-weight="bold" fill="#0A0A0A" text-anchor="start" textLength="40.0" lengthAdjust="spacingAndGlyphs">TOTAL</text>
<text x="212.2" y="484.0" font-family="Liberation Sans" font-size="14" font-weight="bold" fill="#0A0A0A" text-anchor="end" textLength="35.0" lengthAdjust="spacingAndGlyphs">2.049</text>
<text x="286.5" y="484.0" font-family="Liberation Sans" font-size="14" font-weight="bold" fill="#0A0A0A" text-anchor="end" textLength="35.0" lengthAdjust="spacingAndGlyphs">9.475</text>
<text x="368.5" y="484.0" font-family="Liberation Sans" font-size="14" font-weight="bold" fill="#0A0A0A" text-anchor="end" textLength="51.4" lengthAdjust="spacingAndGlyphs">21,62 %</text>
<text x="490.5" y="484.0" font-family="Liberation Sans" font-size="14" font-weight="bold" fill="#0A0A0A" text-anchor="end" textLength="77.9" lengthAdjust="spacingAndGlyphs">$170.300,51</text>
<text x="601.5" y="484.0" font-family="Liberation Sans" font-size="14" font-weight="bold" fill="#0A0A0A" text-anchor="end" textLength="89.5" lengthAdjust="spacingAndGlyphs">$4.743.180,00</text>
<text x="743.5" y="484.0" font-family="Liberation Sans" font-size="14" font-weight="bold" fill="#0A0A0A" text-anchor="end" textLength="43.6" lengthAdjust="spacingAndGlyphs">3,59 %</text>
<text x="841.0" y="484.0" font-family="Liberation Sans" font-size="14" font-weight="bold" fill="#0A0A0A" text-anchor="end" textLength="23.4" lengthAdjust="spacingAndGlyphs">402</text>
<text x="945.5" y="484.0" font-family="Liberation Sans" font-size="14" font-weight="bold" fill="#0A0A0A" text-anchor="end" textLength="15.6" lengthAdjust="spacingAndGlyphs">79</text>
<text x="1064.5" y="484.0" font-family="Liberation Sans" font-size="14" font-weight="bold" fill="#0A0A0A" text-anchor="end" textLength="51.4" lengthAdjust="spacingAndGlyphs">19,65 %</text>
<line x1="37.00" y1="302.50" x2="1170.00" y2="302.50" stroke="#4474B4" stroke-width="1"/>
<line x1="141.50" y1="302.00" x2="141.50" y2="489.50" stroke="#4F7DBA" stroke-width="1"/>
<rect x="1108.00" y="474.00" width="36.00" height="32.00" rx="0" fill="#FFFFFF"/>
<rect x="1149.00" y="474.00" width="36.00" height="32.00" rx="0" fill="#FFFFFF"/>
<rect x="1149.00" y="474.00" width="45.00" height="18.00" rx="0" fill="#FFFFFF"/>
<line x1="1185.50" y1="474.00" x2="1185.50" y2="492.00" stroke="#E3E3E3" stroke-width="1"/>
<path d="M1117.5,485.3 H1135 M1120.5,490.9 H1132 M1123.5,497.3 H1129" stroke="#666" stroke-width="1.3" fill="none"/>
<path d="M1165.8,484.4 H1160.5 Q1158.4,484.4 1158.4,486.5 V499.3 Q1158.4,501.4 1160.5,501.4 H1173.7 Q1175.8,501.4 1175.8,499.3 V491.4 M1158.4,493.1 H1164.6 Q1166.7,493.1 1166.7,495.2 V501.4 M1171.4,484.4 H1175.8 V488.8 M1175.8,484.4 L1168.8,491.2" stroke="#666" stroke-width="1.3" fill="none"/>
<path d="M40,510 H757 A8,8 0 0 1 765,518 V730 A8,8 0 0 1 757,738 H40 A8,8 0 0 1 32,730 V518 A8,8 0 0 1 40,510 Z" fill="#fff" stroke="#E3E3E3" stroke-width="1"/>
<path d="M31.5,532 V518 A8,8 0 0 1 40,509.5 H757 A8,8 0 0 1 765.5,518 V532 Z" fill="#666666"/>
<text x="37.0" y="525.4" font-family="Liberation Sans" font-size="13" font-weight="bold" fill="#F4F4F4" text-anchor="start" textLength="236.0" lengthAdjust="spacingAndGlyphs" stroke="#F4F4F4" stroke-width="0.55">RESULTADOS POR RAMO / ACUMULADO</text>
<rect x="37.00" y="533.00" width="100.50" height="30.50" rx="0" fill="#D5E6F6"/>
<text x="42.1" y="550.5" font-family="Liberation Sans" font-size="12.5" font-weight="bold" fill="#111" text-anchor="start" textLength="88.0" lengthAdjust="spacingAndGlyphs">TIPO DE RAMO</text>
<rect x="137.50" y="533.00" width="76.00" height="30.50" rx="0" fill="#4B5B8B"/>
<text x="142.6" y="550.5" font-family="Liberation Sans" font-size="12.5" font-weight="bold" fill="#FFF" text-anchor="start" textLength="63.8" lengthAdjust="spacingAndGlyphs" stroke="#FFF" stroke-width="0.3">INV. TOTAL</text>
<rect x="213.50" y="533.00" width="70.50" height="30.50" rx="0" fill="#4B5B8B"/>
<text x="218.0" y="550.5" font-family="Liberation Sans" font-size="12.5" font-weight="bold" fill="#FFF" text-anchor="start" textLength="59.0" lengthAdjust="spacingAndGlyphs" stroke="#FFF" stroke-width="0.3">PPTO. INV</text>
<rect x="284.00" y="533.00" width="82.00" height="30.50" rx="0" fill="#425082"/>
<text x="288.8" y="550.5" font-family="Liberation Sans" font-size="12.5" font-weight="bold" fill="#DADCE6" text-anchor="start" textLength="72.0" lengthAdjust="spacingAndGlyphs" stroke="#DADCE6" stroke-width="0.3">CUMPL. INV</text>
<rect x="366.00" y="533.00" width="122.00" height="30.50" rx="0" fill="#4A89DC"/>
<text x="372.2" y="550.5" font-family="Liberation Sans" font-size="12.5" font-weight="bold" fill="#FFF" text-anchor="start" textLength="86.2" lengthAdjust="spacingAndGlyphs" stroke="#FFF" stroke-width="0.3">SUSCRITO USD</text>
<rect x="488.00" y="533.00" width="106.00" height="30.50" rx="0" fill="#4A89DC"/>
<text x="493.6" y="550.5" font-family="Liberation Sans" font-size="12.5" font-weight="bold" fill="#FFF" text-anchor="start" textLength="62.0" lengthAdjust="spacingAndGlyphs" stroke="#FFF" stroke-width="0.3">PPTO. USD</text>
<rect x="594.00" y="533.00" width="151.00" height="30.50" rx="0" fill="#4A89DC"/>
<text x="598.7" y="550.5" font-family="Liberation Sans" font-size="12.5" font-weight="bold" fill="#FFF" text-anchor="start" textLength="136.0" lengthAdjust="spacingAndGlyphs" stroke="#FFF" stroke-width="0.3">CUMPL. SUSCRITO USD</text>
<line x1="213.00" y1="533.00" x2="213.00" y2="563.50" stroke="#BCC5DD" stroke-width="1"/>
<line x1="283.50" y1="533.00" x2="283.50" y2="563.50" stroke="#BCC5DD" stroke-width="1"/>
<line x1="365.50" y1="533.00" x2="365.50" y2="563.50" stroke="#BCC5DD" stroke-width="1"/>
<line x1="487.50" y1="533.00" x2="487.50" y2="563.50" stroke="#A9C5EC" stroke-width="1"/>
<line x1="593.50" y1="533.00" x2="593.50" y2="563.50" stroke="#A9C5EC" stroke-width="1"/>
<path d="M371.5,553.5 L380.5,553.5 L376,558 Z" fill="#F0F0F4"/>
<rect x="284.00" y="563.50" width="82.00" height="23.30" rx="0" fill="#4B5B8B"/>
<rect x="594.00" y="563.50" width="151.00" height="23.30" rx="0" fill="#4A89DC"/>
<text x="42.0" y="580.0" font-family="Liberation Sans" font-size="12" font-weight="bold" fill="#111" text-anchor="start" textLength="77.2" lengthAdjust="spacingAndGlyphs">AUTO CASCO</text>
<text x="208.0" y="580.0" font-family="Liberation Sans" font-size="12" font-weight="bold" fill="#111" text-anchor="end" textLength="20.4" lengthAdjust="spacingAndGlyphs">148</text>
<text x="278.5" y="580.0" font-family="Liberation Sans" font-size="12" font-weight="bold" fill="#111" text-anchor="end" textLength="20.4" lengthAdjust="spacingAndGlyphs">842</text>
<text x="360.5" y="580.0" font-family="Liberation Sans" font-size="12" font-weight="bold" fill="#FFFFFF" text-anchor="end" textLength="44.9" lengthAdjust="spacingAndGlyphs">17,58 %</text>
<text x="482.5" y="580.0" font-family="Liberation Sans" font-size="12" font-weight="bold" fill="#111" text-anchor="end" textLength="70.1" lengthAdjust="spacingAndGlyphs">$129.672,98</text>
<text x="588.5" y="580.0" font-family="Liberation Sans" font-size="12" font-weight="bold" fill="#111" text-anchor="end" textLength="70.1" lengthAdjust="spacingAndGlyphs">$530.758,00</text>
<text x="739.5" y="580.0" font-family="Liberation Sans" font-size="12" font-weight="bold" fill="#FFFFFF" text-anchor="end" textLength="44.9" lengthAdjust="spacingAndGlyphs">24,43 %</text>
<path d="M296.5,567.65 L304.0,575.15 L296.5,582.65 L289.0,575.15 Z" fill="#F26A58" stroke="#9A1A10" stroke-width="1.2"/>
<path d="M606.5,567.65 L614.0,575.15 L606.5,582.65 L599.0,575.15 Z" fill="#F26A58" stroke="#9A1A10" stroke-width="1.2"/>
<rect x="284.00" y="586.80" width="82.00" height="23.30" rx="0" fill="#4B5B8B"/>
<rect x="594.00" y="586.80" width="151.00" height="23.30" rx="0" fill="#4A89DC"/>
<line x1="37.00" y1="587.30" x2="284.00" y2="587.30" stroke="#CDD3E3" stroke-width="1"/>
<line x1="284.00" y1="587.30" x2="366.00" y2="587.30" stroke="#B9C1D8" stroke-width="1"/>
<line x1="366.00" y1="587.30" x2="594.00" y2="587.30" stroke="#CDD3E3" stroke-width="1"/>
<line x1="594.00" y1="587.30" x2="745.00" y2="587.30" stroke="#B9CDEE" stroke-width="1"/>
<text x="42.0" y="603.3" font-family="Liberation Sans" font-size="12" font-weight="bold" fill="#111" text-anchor="start" textLength="60.0" lengthAdjust="spacingAndGlyphs">AUTO RCV</text>
<text x="208.0" y="603.3" font-family="Liberation Sans" font-size="12" font-weight="bold" fill="#111" text-anchor="end" textLength="30.6" lengthAdjust="spacingAndGlyphs">1.901</text>
<text x="278.5" y="603.3" font-family="Liberation Sans" font-size="12" font-weight="bold" fill="#111" text-anchor="end" textLength="30.6" lengthAdjust="spacingAndGlyphs">2.456</text>
<text x="360.5" y="603.3" font-family="Liberation Sans" font-size="12" font-weight="bold" fill="#FFFFFF" text-anchor="end" textLength="44.9" lengthAdjust="spacingAndGlyphs">77,40 %</text>
<text x="482.5" y="603.3" font-family="Liberation Sans" font-size="12" font-weight="bold" fill="#111" text-anchor="end" textLength="63.1" lengthAdjust="spacingAndGlyphs">$40.627,53</text>
<text x="588.5" y="603.3" font-family="Liberation Sans" font-size="12" font-weight="bold" fill="#111" text-anchor="end" textLength="70.1" lengthAdjust="spacingAndGlyphs">$216.124,00</text>
<text x="739.5" y="603.3" font-family="Liberation Sans" font-size="12" font-weight="bold" fill="#FFFFFF" text-anchor="end" textLength="44.9" lengthAdjust="spacingAndGlyphs">18,80 %</text>
<path d="M296.5,590.4499999999999 L304.5,605.2499999999999 L288.5,605.2499999999999 Z" fill="#E39A2C" stroke="#B07020" stroke-width="0.6"/>
<path d="M606.5,590.9499999999999 L614.0,598.4499999999999 L606.5,605.9499999999999 L599.0,598.4499999999999 Z" fill="#F26A58" stroke="#9A1A10" stroke-width="1.2"/>
<line x1="213.00" y1="563.50" x2="213.00" y2="610.10" stroke="#CDD3E3" stroke-width="1"/>
<line x1="283.50" y1="563.50" x2="283.50" y2="610.10" stroke="#CDD3E3" stroke-width="1"/>
<line x1="365.50" y1="563.50" x2="365.50" y2="610.10" stroke="#CDD3E3" stroke-width="1"/>
<line x1="487.50" y1="563.50" x2="487.50" y2="610.10" stroke="#CDD3E3" stroke-width="1"/>
<line x1="593.50" y1="563.50" x2="593.50" y2="610.10" stroke="#CDD3E3" stroke-width="1"/>
<rect x="37.00" y="610.10" width="708.00" height="24.40" rx="0" fill="#C8C8C8"/>
<line x1="213.00" y1="610.10" x2="213.00" y2="634.50" stroke="#D6D6D6" stroke-width="1"/>
<line x1="283.50" y1="610.10" x2="283.50" y2="634.50" stroke="#D6D6D6" stroke-width="1"/>
<line x1="365.50" y1="610.10" x2="365.50" y2="634.50" stroke="#D6D6D6" stroke-width="1"/>
<line x1="487.50" y1="610.10" x2="487.50" y2="634.50" stroke="#D6D6D6" stroke-width="1"/>
<line x1="593.50" y1="610.10" x2="593.50" y2="634.50" stroke="#D6D6D6" stroke-width="1"/>
<text x="42.0" y="628.5" font-family="Liberation Sans" font-size="14" font-weight="bold" fill="#0A0A0A" text-anchor="start" textLength="40.0" lengthAdjust="spacingAndGlyphs">TOTAL</text>
<text x="208.0" y="628.5" font-family="Liberation Sans" font-size="14" font-weight="bold" fill="#0A0A0A" text-anchor="end" textLength="35.0" lengthAdjust="spacingAndGlyphs">2.049</text>
<text x="278.5" y="628.5" font-family="Liberation Sans" font-size="14" font-weight="bold" fill="#0A0A0A" text-anchor="end" textLength="35.0" lengthAdjust="spacingAndGlyphs">3.298</text>
<text x="360.5" y="628.5" font-family="Liberation Sans" font-size="14" font-weight="bold" fill="#0A0A0A" text-anchor="end" textLength="51.4" lengthAdjust="spacingAndGlyphs">62,13 %</text>
<text x="482.5" y="628.5" font-family="Liberation Sans" font-size="14" font-weight="bold" fill="#0A0A0A" text-anchor="end" textLength="77.9" lengthAdjust="spacingAndGlyphs">$170.300,51</text>
<text x="588.5" y="628.5" font-family="Liberation Sans" font-size="14" font-weight="bold" fill="#0A0A0A" text-anchor="end" textLength="77.9" lengthAdjust="spacingAndGlyphs">$746.882,00</text>
<text x="739.5" y="628.5" font-family="Liberation Sans" font-size="14" font-weight="bold" fill="#0A0A0A" text-anchor="end" textLength="51.4" lengthAdjust="spacingAndGlyphs">22,80 %</text>
<line x1="37.00" y1="564.00" x2="745.00" y2="564.00" stroke="#4474B4" stroke-width="1"/>
<line x1="137.00" y1="563.50" x2="137.00" y2="634.50" stroke="#4F7DBA" stroke-width="1"/>
<path d="M784,510.5 H1177 A8,8 0 0 1 1185,518.5 V730 A8,8 0 0 1 1177,738 H784 A8,8 0 0 1 776,730 V518.5 A8,8 0 0 1 784,510.5 Z" fill="#fff" stroke="#E3E3E3" stroke-width="1"/>
<path d="M775.5,530.5 V518.5 A8,8 0 0 1 784,510.0 H1177 A8,8 0 0 1 1185.5,518.5 V530.5 Z" fill="#666666"/>
<text x="781.0" y="523.9" font-family="Liberation Sans" font-size="13" font-weight="bold" fill="#F4F4F4" text-anchor="start" textLength="267.0" lengthAdjust="spacingAndGlyphs" stroke="#F4F4F4" stroke-width="0.55">DISTRIBUCION DE PRIMA POR TIPO DE RAMO</text>
<circle cx="787.2" cy="546.3" r="4.4" fill="#B6D0F0"/>
<text x="795.0" y="551.5" font-family="Liberation Sans" font-size="14" font-weight="bold" fill="#555555" text-anchor="start" textLength="47.7" lengthAdjust="spacingAndGlyphs" stroke="#555555" stroke-width="0.3">FIANZA</text>
<circle cx="855" cy="546.3" r="4.4" fill="#B5BCD3"/>
<text x="863.6" y="551.5" font-family="Liberation Sans" font-size="14" font-weight="bold" fill="#555555" text-anchor="start" textLength="104.5" lengthAdjust="spacingAndGlyphs" stroke="#555555" stroke-width="0.3">PATRIMONIALES</text>
<circle cx="980.8" cy="546.3" r="4.4" fill="#F2C3AE"/>
<text x="988.3" y="551.5" font-family="Liberation Sans" font-size="14" font-weight="bold" fill="#555555" text-anchor="start" textLength="43.7" lengthAdjust="spacingAndGlyphs" stroke="#555555" stroke-width="0.3">SALUD</text>
<circle cx="1044.5" cy="546.3" r="4.4" fill="#6A007D"/>
<text x="1052.5" y="551.5" font-family="Liberation Sans" font-size="14" font-weight="bold" fill="#555555" text-anchor="start" textLength="34.3" lengthAdjust="spacingAndGlyphs" stroke="#555555" stroke-width="0.3">AUTO</text>
<circle cx="1099.2" cy="546.3" r="4.4" fill="#A8DDC8"/>
<text x="1106.9" y="551.5" font-family="Liberation Sans" font-size="14" font-weight="bold" fill="#555555" text-anchor="start" textLength="71.1" lengthAdjust="spacingAndGlyphs" stroke="#555555" stroke-width="0.3">PERSONAS</text>
<path d="M983.3,649.5 L983.30,581.00 A68.5,68.5 0 1 1 935.89,698.94 Z" fill="#B6D0F0"/>
<path d="M983.3,649.5 L935.89,698.94 A68.5,68.5 0 0 1 933.04,602.96 Z" fill="#B5BCD3"/>
<path d="M983.3,649.5 L933.04,602.96 A68.5,68.5 0 0 1 955.00,587.12 Z" fill="#F2C3AE"/>
<path d="M983.3,649.5 L955.00,587.12 A68.5,68.5 0 0 1 977.93,581.21 Z" fill="#6A007D"/>
<path d="M983.3,649.5 L977.93,581.21 A68.5,68.5 0 0 1 983.30,581.00 Z" fill="#A8DDC8"/>
<line x1="983.3" y1="649.5" x2="983.30" y2="580.00" stroke="#fff" stroke-width="0.5" stroke-opacity="0.7"/>
<line x1="983.3" y1="649.5" x2="935.20" y2="699.66" stroke="#fff" stroke-width="0.5" stroke-opacity="0.7"/>
<line x1="983.3" y1="649.5" x2="932.31" y2="602.28" stroke="#fff" stroke-width="0.5" stroke-opacity="0.7"/>
<line x1="983.3" y1="649.5" x2="954.59" y2="586.21" stroke="#fff" stroke-width="0.5" stroke-opacity="0.7"/>
<line x1="983.3" y1="649.5" x2="977.85" y2="580.21" stroke="#fff" stroke-width="0.5" stroke-opacity="0.7"/>
<circle cx="983.3" cy="649.5" r="22.5" fill="#fff"/>
<text x="922.5" y="582.8" font-family="Liberation Sans" font-size="14" font-weight="normal" fill="#666" text-anchor="end">SALUD</text>
<text x="922.5" y="602.7" font-family="Liberation Sans" font-size="14" font-weight="normal" fill="#666" text-anchor="end" textLength="98.0" lengthAdjust="spacingAndGlyphs">$0,19 mill. (6%)</text>
<path d="M927.5,586 H937.5 L942,592.5" fill="none" stroke="#BBB" stroke-width="1"/>
<text x="897.6" y="677.4" font-family="Liberation Sans" font-size="14" font-weight="normal" fill="#666" text-anchor="end" textLength="107.4" lengthAdjust="spacingAndGlyphs">PATRIMONIALES</text>
<text x="897.6" y="696.7" font-family="Liberation Sans" font-size="14" font-weight="normal" fill="#666" text-anchor="end" textLength="90.6" lengthAdjust="spacingAndGlyphs">$0,76 ... (25%)</text>
<path d="M901.7,681.5 H913.3 L919.4,677.4" fill="none" stroke="#BBB" stroke-width="1"/>
<text x="1070.0" y="673.7" font-family="Liberation Sans" font-size="14" font-weight="normal" fill="#666" text-anchor="start" textLength="49.3" lengthAdjust="spacingAndGlyphs">FIANZA</text>
<text x="1070.0" y="693.6" font-family="Liberation Sans" font-size="14" font-weight="normal" fill="#666" text-anchor="start" textLength="90.5" lengthAdjust="spacingAndGlyphs">$1,89 ... (62%)</text>
<path d="M1048.5,675 Q1051,677.5 1055,677.5 H1066" fill="none" stroke="#BBB" stroke-width="1"/>
</svg></body></html>
